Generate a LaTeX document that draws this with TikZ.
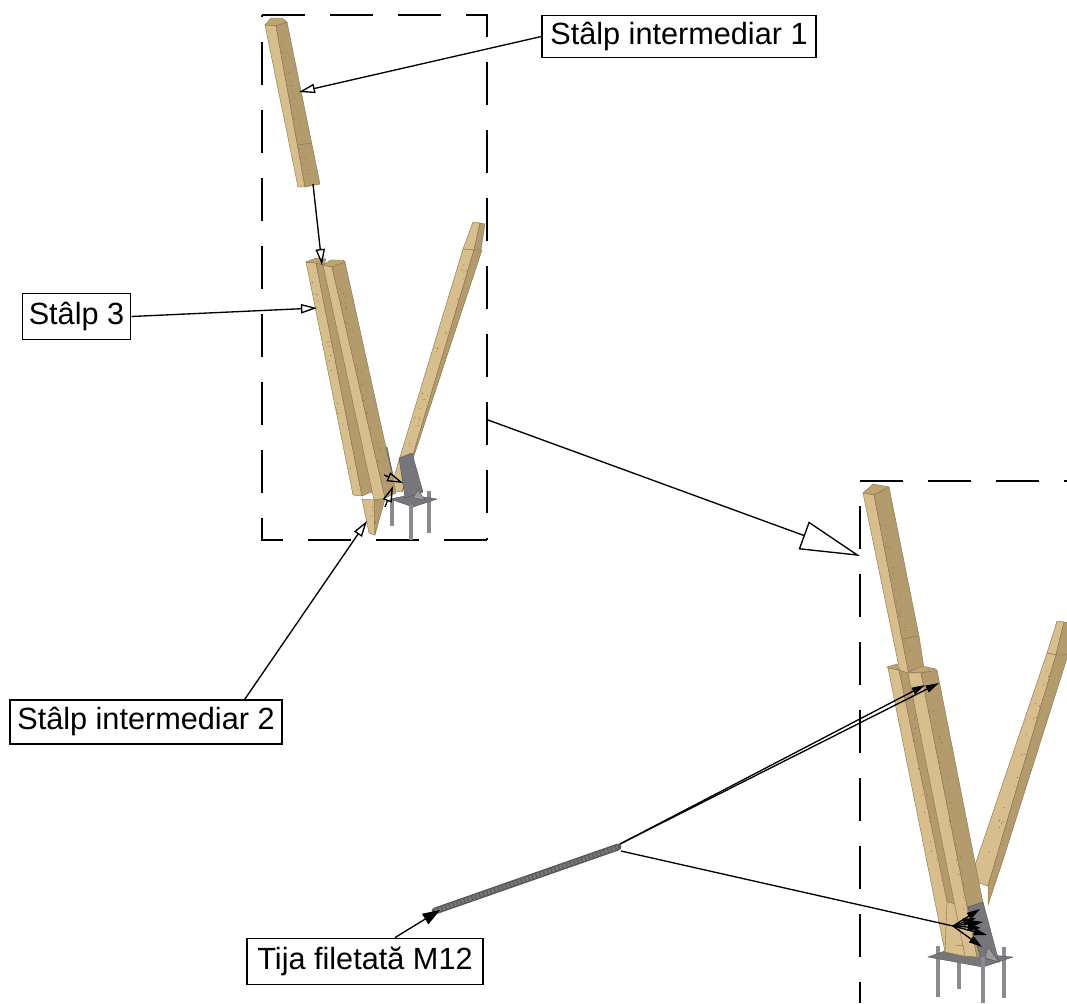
\documentclass[tikz,border=0pt]{standalone}
\usepackage{fontspec}
\setmainfont{Liberation Sans}
\usetikzlibrary{arrows.meta,calc}
\definecolor{woodlight}{HTML}{D8BE8C}
\definecolor{wooddark}{HTML}{B39B6E}
\definecolor{woodtop}{HTML}{BFA473}
\definecolor{woodedge}{HTML}{85714C}
\definecolor{woodspot}{HTML}{8E774E}
\definecolor{steel}{HTML}{77777B}
\definecolor{steellight}{HTML}{9A9A9C}
\tikzset{
	framedash/.style={line width=1.1pt, dash pattern=on 32.25pt off 18.75pt},
	lightface/.style={fill=woodlight, draw=woodedge, line width=0.3pt},
	darkface/.style={fill=wooddark, draw=woodedge, line width=0.3pt},
	topface/.style={fill=woodtop, draw=woodedge, line width=0.3pt},
	plate/.style={fill=steel, draw=steel!70!black, line width=0.3pt},
	platelight/.style={fill=steellight, draw=steel!70!black, line width=0.3pt},
	rod/.style={draw=steel!85!white, line width=2.4pt},
	labelbox/.style={draw, line width=0.9pt, fill=white, inner sep=0pt, font=\fontsize{23}{27}\selectfont},
	openarrow/.style={line width=1pt, -{Triangle[open,length=12pt,width=7pt]}},
	solidarrow/.style={line width=1pt, -{Triangle[length=10pt,width=5.5pt]}}
}
\newcommand{\woodspots}[3]{
	\foreach \k in {1,...,#3} {
		\pgfmathsetmacro{\tpos}{0.03+0.94*rnd}
		\pgfmathsetmacro{\tside}{rnd}
		\fill[woodspot] ($#1!\tpos!#2$) ++(\tside*6,0) circle (0.45pt);
	}
}
\begin{document}
\begin{tikzpicture}[x=0.75pt,y=-0.75pt]
	\clip (0,0) rectangle (1067,1003);
	\pgfmathsetseed{7}

	\draw[framedash] (262,15)--(487,15)--(487,540);
	\draw[framedash] (487,540)--(262,540)--(262,15);
	\draw[framedash] (860,481)--(1067,481);
	\draw[framedash] (860,506)--(860,1003);

	\filldraw[topface] (265,25)--(271,18)--(282,18)--(287,22)--(276,26)--cycle;
	\filldraw[lightface] (265,25)--(276,26)--(305,187)--(298,187)--cycle;
	\filldraw[darkface] (276,26)--(287,22)--(320,184)--(305,187)--cycle;
	\draw[woodedge, line width=0.3pt] (298,145)--(312,143);
	\woodspots{(278,32)}{(304,180)}{22}

	\filldraw[lightface] (473,222)--(480,223)--(474,250)--(463,249)--cycle;
	\filldraw[darkface] (480,223)--(485,224)--(481,250)--(474,250)--cycle;
	\filldraw[lightface] (463,249)--(474,250)--(402,492)--(390,490)--cycle;
	\filldraw[darkface] (474,250)--(482,250)--(407,477)--(402,492)--cycle;
	\woodspots{(465,258)}{(398,470)}{22}

	\filldraw[plate] (383,448)--(387,447)--(393,475)--(389,472)--cycle;
	\draw[rod] (392,500)--(392,526);
	\draw[rod] (429,491)--(429,533);
	\filldraw[plate] (390,499)--(410,495)--(437,499)--(413,507)--cycle;
	\filldraw[plate] (399,458)--(412,453)--(423,492)--(405,498)--cycle;
	\filldraw[platelight] (413,498)--(418,490)--(425,500)--cycle;
	\draw[rod] (411,505)--(411,540);

	\filldraw[lightface] (306,262)--(316,263)--(362,496)--(353,495)--cycle;
	\filldraw[darkface] (316,263)--(324,265)--(374,492)--(369,493)--(362,496)--cycle;
	\filldraw[topface] (306,262)--(316,258)--(326,259)--(324,265)--(316,263)--cycle;
	\filldraw[lightface] (323,265)--(332,267)--(385,498)--(374,500)--cycle;
	\filldraw[darkface] (332,267)--(345,262)--(396,493)--(385,498)--cycle;
	\filldraw[topface] (323,265)--(331,260)--(343,260)--(345,262)--(332,267)--cycle;
	\filldraw[lightface] (362,499)--(374,500)--(375,535)--(369,533)--cycle;
	\filldraw[darkface] (374,500)--(385,499)--(375,535)--cycle;
	\woodspots{(335,275)}{(383,490)}{30}
	\woodspots{(310,272)}{(352,490)}{16}
	\woodspots{(368,505)}{(372,530)}{4}

	\filldraw[lightface] (1057,621)--(1064,622)--(1056,655)--(1047,653)--cycle;
	\filldraw[darkface] (1064,622)--(1071,623)--(1067,655)--(1056,655)--cycle;
	\filldraw[lightface] (1047,653)--(1056,655)--(988,886)--(970,880)--cycle;
	\filldraw[darkface] (1056,655)--(1068,655)--(1003,860)--(988,905)--(988,886)--cycle;
	\woodspots{(1048,665)}{(985,860)}{22}

	\draw[rod] (959,963)--(959,989);
	\draw[rod] (1004,947)--(1004,998);
	\draw[rod] (938,946)--(938,997);
	\filldraw[plate] (928,957)--(945,951)--(1013,957)--(983,967)--cycle;

	\filldraw[topface] (863,493)--(873,484)--(889,487)--(874,495)--cycle;
	\filldraw[lightface] (863,493)--(874,495)--(909,675)--(900,672)--cycle;
	\filldraw[darkface] (874,495)--(889,487)--(919,636)--(925,675)--(909,675)--cycle;
	\draw[woodedge, line width=0.3pt] (902,639)--(919,636);
	\woodspots{(876,502)}{(906,660)}{30}

	\filldraw[topface] (887,667)--(897,664)--(899,670)--(888,668)--cycle;
	\filldraw[lightface] (888,668)--(899,670)--(958,950)--(945,952)--cycle;
	\filldraw[darkface] (899,670)--(908,673)--(947,860)--(956,904)--(947,902)--cycle;
	\filldraw[lightface] (947,902)--(956,904)--(968,957)--(945,952)--cycle;
	\filldraw[lightface] (908,673)--(921,673)--(977,957)--(965,956)--cycle;
	\filldraw[darkface] (921,673)--(937,670)--(983,903)--(985,957)--(977,957)--cycle;
	\filldraw[topface] (908,672)--(922,666)--(936,669)--(921,673)--cycle;
	\draw[woodedge, line width=0.3pt] (955,945)--(965,946);
	\woodspots{(928,690)}{(968,940)}{34}
	\woodspots{(905,690)}{(945,940)}{22}

	\filldraw[plate] (968,907)--(983,902)--(999,962)--(980,957)--cycle;
	\filldraw[platelight] (985,958)--(988,947)--(999,962)--cycle;
	\draw[rod] (983,957)--(983,1003);

	\draw[steel!75!black, line width=5.2pt, line cap=round] (435,911)--(618,847);
	\draw[steel, line width=3pt, dash pattern=on 2pt off 1pt] (435,911)--(618,847);

	\node[labelbox, minimum width=205.5pt, minimum height=32pt] (stalpA) at (679,36.5) {Stâlp intermediar 1};
	\node[labelbox, minimum width=81.5pt, minimum height=35pt] (stalpC) at (76.5,316.5) {Stâlp 3};
	\node[labelbox, minimum width=204pt, minimum height=33pt] (stalpB) at (146,722) {Stâlp intermediar 2};
	\node[labelbox, minimum width=177pt, minimum height=35pt] (tija) at (365,961.5) {Tija filetată M12};

	\coordinate (postA) at (299,92);
	\coordinate (postAend) at (313,184);
	\coordinate (postCtop) at (322,265);
	\coordinate (postC) at (317,308);
	\coordinate (postB) at (367,521);
	\coordinate (jointA) at (403,483);
	\coordinate (jointB) at (393,486);
	\coordinate (jointAfrom) at (384,475);
	\coordinate (jointBfrom) at (385,507);
	\coordinate (frameEdge) at (488,420);
	\coordinate (frameBig) at (860,556);
	\coordinate (rodStart) at (440,910);
	\coordinate (rodEnd) at (620,844);
	\coordinate (rodEndC) at (621,851);
	\coordinate (holeA) at (925,685);
	\coordinate (holeB) at (939,683);
	\coordinate (fan) at (953,926);

	\draw[openarrow] (stalpA.west)--(postA);
	\draw[openarrow] (postAend)--(postCtop);
	\draw[openarrow] (stalpC.east)--(postC);
	\draw[openarrow] ([xshift=74pt]stalpB.north)--(postB);
	\draw[openarrow] (jointAfrom)--(jointA);
	\draw[openarrow] (jointBfrom)--(jointB);
	\draw[line width=1pt, -{Triangle[open,length=45pt,width=22pt]}] (frameEdge)--(frameBig);
	\draw[line width=1pt, -{Triangle[length=13pt,width=9pt]}] ([xshift=22.5pt]tija.north)--(rodStart);
	\draw[solidarrow] (rodEnd)--(holeA);
	\draw[solidarrow] (rodEnd)--(holeB);
	\draw[line width=1pt] (rodEndC)--(fan);
	\foreach \tipx/\tipy in {980/909,976/918,983/922,981/928,987/935,982/947} {
		\draw[solidarrow] (fan)--(\tipx,\tipy);
	}
\end{tikzpicture}
\end{document}
